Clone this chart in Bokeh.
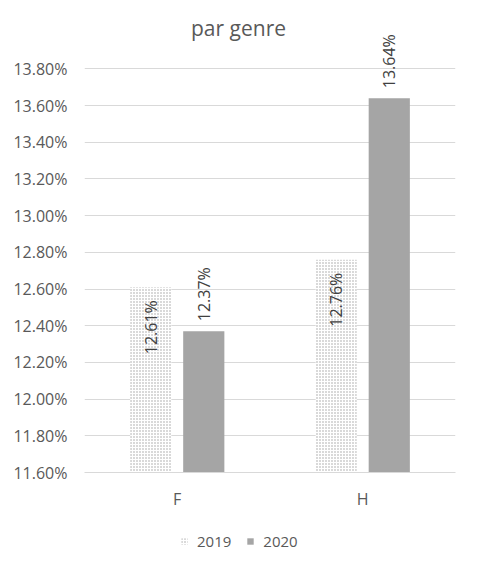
import numpy as np
from bokeh.plotting import figure
from bokeh.layouts import column
from bokeh.models import (ColumnDataSource, FactorRange, Range1d, FixedTicker, NumeralTickFormatter,
                          Legend, LegendItem, Label)
from bokeh.transform import dodge
from bokeh.core.properties import value
from bokeh.embed import file_html
from bokeh.resources import INLINE

categories = ["F", "H"]
series_2019 = [0.1261, 0.1276]
series_2020 = [0.1237, 0.1364]
labels_2019 = ["12.61%", "12.76%"]
labels_2020 = ["12.37%", "13.64%"]
y_ticks = [0.116, 0.118, 0.120, 0.122, 0.124, 0.126, 0.128, 0.130, 0.132, 0.134, 0.136, 0.138]
y_min, y_top_tick = 0.116, 0.138
title_text = "par genre"
legend_labels = ["2019", "2020"]

FONT = "Open Sans"
C19_HATCH = "#a0a0a0"
C20 = "#a5a5a5"

# frame: 408 px between 11.60% and 13.80%, extended 59 px above for labels/title
y_max_view = y_min + (y_top_tick - y_min) * 467 / 408

src = ColumnDataSource(dict(cat=categories, v19=series_2019, v20=series_2020,
                            l19=labels_2019, l20=labels_2020))

p = figure(x_range=FactorRange(*categories, range_padding=0),
           y_range=Range1d(y_min, y_max_view),
           width=461, height=512, output_backend="svg", toolbar_location=None,
           min_border_left=84, min_border_right=6, min_border_top=10, min_border_bottom=35)

r19 = p.vbar(x=dodge("cat", -0.143, range=p.x_range), top="v19", bottom=y_min, width=0.222, source=src,
             fill_color="white", line_color=None, hatch_pattern="dot", hatch_color=C19_HATCH,
             hatch_scale=3, hatch_weight=1)
r20 = p.vbar(x=dodge("cat", 0.143, range=p.x_range), top="v20", bottom=y_min, width=0.222, source=src,
             fill_color=C20, line_color=None)

p.text(x=dodge("cat", -0.143, range=p.x_range), y="v19", text="l19", source=src, angle=np.pi / 2,
       text_align="right", text_baseline="middle", y_offset=13,
       text_font=value(FONT), text_font_size="16px", text_color="#404040")
p.text(x=dodge("cat", 0.143, range=p.x_range), y="v20", text="l20", source=src, angle=np.pi / 2,
       text_align="left", text_baseline="middle", y_offset=-10,
       text_font=value(FONT), text_font_size="16px", text_color="#404040")

p.add_layout(Label(x=154, y=445, x_units="screen", y_units="screen", text=title_text,
                   text_align="center", text_baseline="middle", text_font=FONT,
                   text_font_size="21px", text_color="#595959"))

p.yaxis.ticker = FixedTicker(ticks=y_ticks)
p.yaxis.formatter = NumeralTickFormatter(format="0.00%")
p.yaxis.axis_line_color = None
p.yaxis.major_tick_line_color = None
p.yaxis.minor_tick_line_color = None
p.yaxis.major_tick_out = 0
p.yaxis.major_tick_in = 0
p.yaxis.major_label_text_font = FONT
p.yaxis.major_label_text_font_size = "16px"
p.yaxis.major_label_text_color = "#595959"
p.yaxis.major_label_standoff = 17

p.xaxis.axis_line_color = "#d9d9d9"
p.xaxis.major_tick_line_color = None
p.xaxis.minor_tick_line_color = None
p.xaxis.major_tick_out = 0
p.xaxis.major_tick_in = 0
p.xaxis.major_label_text_font = FONT
p.xaxis.major_label_text_font_size = "16px"
p.xaxis.major_label_text_color = "#595959"
p.xaxis.major_label_standoff = 15

p.xgrid.grid_line_color = None
p.ygrid.grid_line_color = "#d9d9d9"
p.ygrid.grid_line_width = 1
p.outline_line_color = None

# legend strip below the chart (its frame is aligned with the chart frame by the column)
pl = figure(width=461, height=39, output_backend="svg", toolbar_location=None,
            x_range=Range1d(0, 1), y_range=Range1d(0, 1), x_axis_type=None, y_axis_type=None,
            min_border_left=0, min_border_right=0, min_border_top=0, min_border_bottom=0)
pl.grid.visible = False
pl.outline_line_color = None
# zero-size swatch renderers, only used to draw the legend keys
swatch = ColumnDataSource(dict(x=[0.5], top=[0.0], bottom=[0.0]))
d19 = pl.vbar(x="x", top="top", bottom="bottom", width=0, source=swatch, fill_color="white",
              line_color=None, hatch_pattern="dot", hatch_color=C19_HATCH, hatch_scale=3, hatch_weight=1)
d20 = pl.vbar(x="x", top="top", bottom="bottom", width=0, source=swatch, fill_color=C20, line_color=None)
legend = Legend(items=[LegendItem(label=legend_labels[0], renderers=[d19], index=0),
                       LegendItem(label=legend_labels[1], renderers=[d20], index=0)],
                orientation="horizontal", location=(96, 0),
                label_text_font=FONT, label_text_font_size="15px", label_text_color="#595959",
                glyph_width=8, glyph_height=8, label_standoff=9, spacing=15, padding=3, margin=0,
                border_line_color=None, background_fill_alpha=0)
pl.add_layout(legend, "center")

layout = column(p, pl, spacing=0)
open("out.html", "w").write(file_html(layout, INLINE))
